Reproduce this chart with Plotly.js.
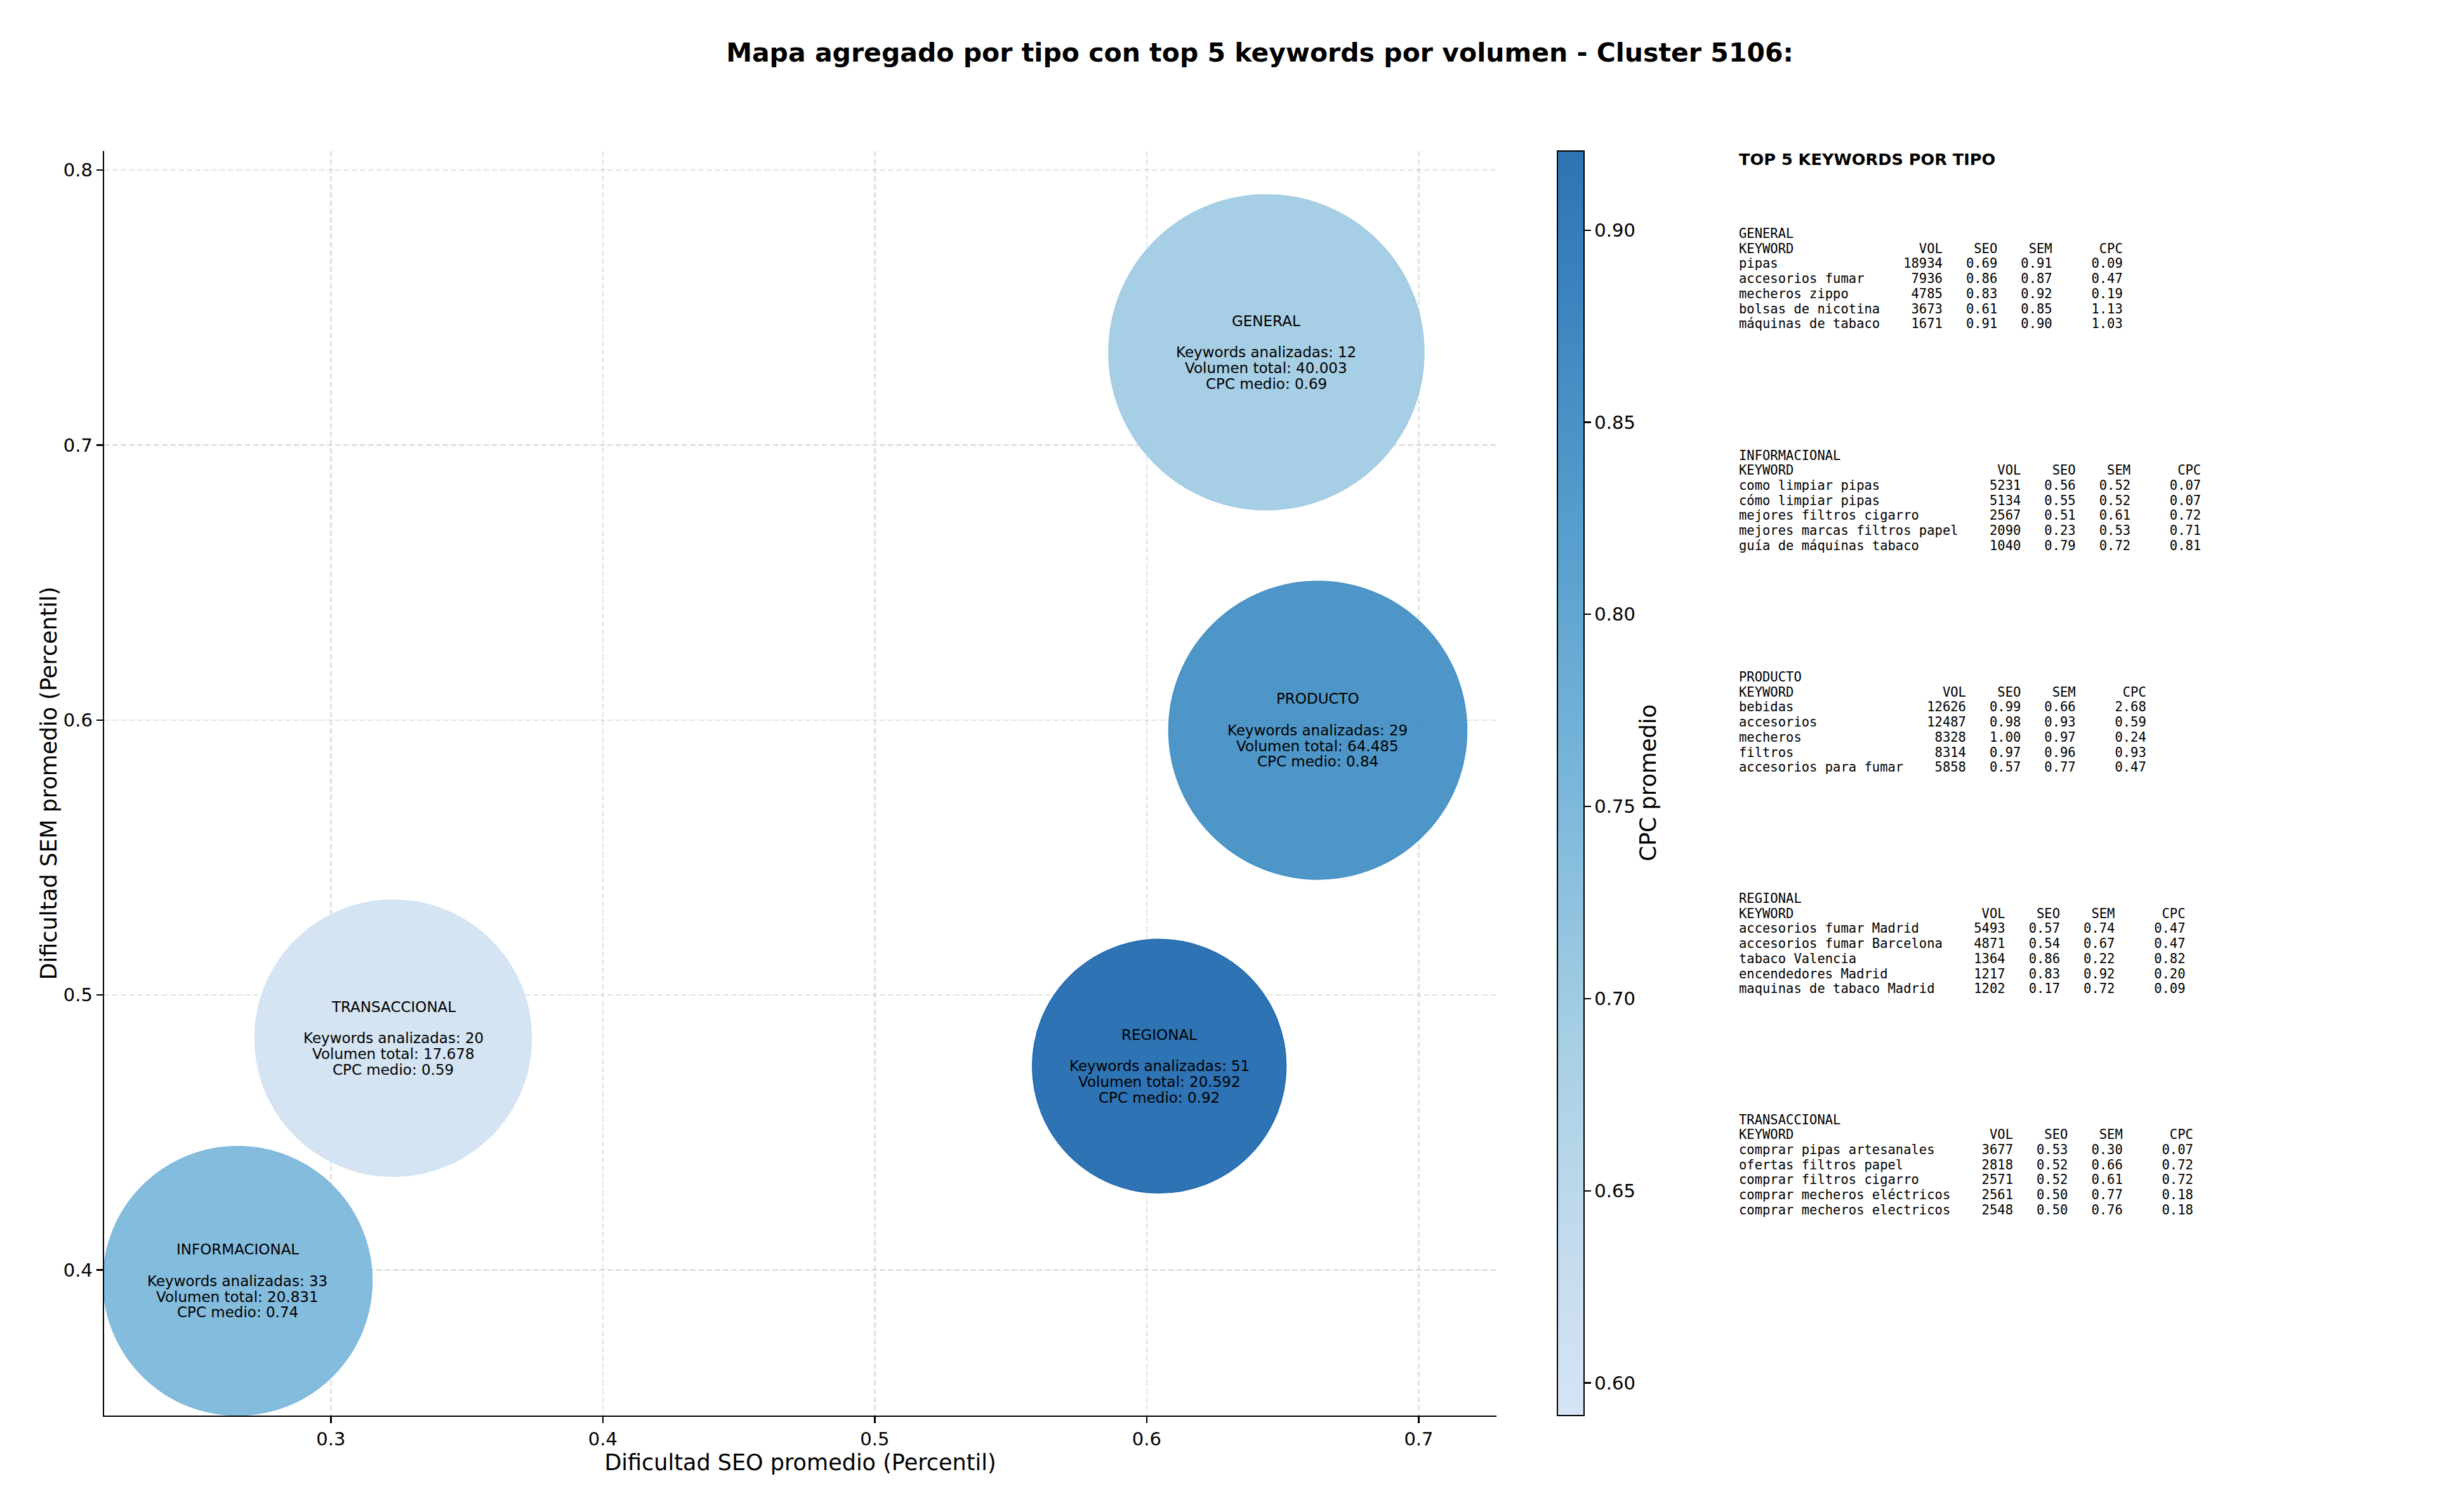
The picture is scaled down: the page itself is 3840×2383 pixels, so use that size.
<!DOCTYPE html>
<html>
<head>
<meta charset="utf-8">
<script src="https://cdn.plot.ly/plotly-3.0.1.min.js"></script>
<style>html,body{margin:0;padding:0;background:#fff;}</style>
</head>
<body>
<div id="chart" style="width:3840px;height:2383px;"></div>
<script>
// ---------- DATA ----------
const tipos = ['GENERAL', 'INFORMACIONAL', 'PRODUCTO', 'REGIONAL', 'TRANSACCIONAL'];
const seoPromedio = [0.644, 0.2657, 0.6629, 0.6046, 0.3229];
const semPromedio = [0.7338, 0.396, 0.5963, 0.4741, 0.4843];
const keywordsAnalizadas = [12, 33, 29, 51, 20];
const volumenTotal = [40003, 20831, 64485, 20592, 17678];
const cpcMedio = [0.69, 0.74, 0.84, 0.92, 0.59];

const generalKw  = ['pipas', 'accesorios fumar', 'mecheros zippo', 'bolsas de nicotina', 'máquinas de tabaco'];
const generalVol = [18934, 7936, 4785, 3673, 1671];
const generalSeo = [0.69, 0.86, 0.83, 0.61, 0.91];
const generalSem = [0.91, 0.87, 0.92, 0.85, 0.90];
const generalCpc = [0.09, 0.47, 0.19, 1.13, 1.03];

const informacionalKw  = ['como limpiar pipas', 'cómo limpiar pipas', 'mejores filtros cigarro', 'mejores marcas filtros papel', 'guía de máquinas tabaco'];
const informacionalVol = [5231, 5134, 2567, 2090, 1040];
const informacionalSeo = [0.56, 0.55, 0.51, 0.23, 0.79];
const informacionalSem = [0.52, 0.52, 0.61, 0.53, 0.72];
const informacionalCpc = [0.07, 0.07, 0.72, 0.71, 0.81];

const productoKw  = ['bebidas', 'accesorios', 'mecheros', 'filtros', 'accesorios para fumar'];
const productoVol = [12626, 12487, 8328, 8314, 5858];
const productoSeo = [0.99, 0.98, 1.00, 0.97, 0.57];
const productoSem = [0.66, 0.93, 0.97, 0.96, 0.77];
const productoCpc = [2.68, 0.59, 0.24, 0.93, 0.47];

const regionalKw  = ['accesorios fumar Madrid', 'accesorios fumar Barcelona', 'tabaco Valencia', 'encendedores Madrid', 'maquinas de tabaco Madrid'];
const regionalVol = [5493, 4871, 1364, 1217, 1202];
const regionalSeo = [0.57, 0.54, 0.86, 0.83, 0.17];
const regionalSem = [0.74, 0.67, 0.22, 0.92, 0.72];
const regionalCpc = [0.47, 0.47, 0.82, 0.20, 0.09];

const transaccionalKw  = ['comprar pipas artesanales', 'ofertas filtros papel', 'comprar filtros cigarro', 'comprar mecheros eléctricos', 'comprar mecheros electricos'];
const transaccionalVol = [3677, 2818, 2571, 2561, 2548];
const transaccionalSeo = [0.53, 0.52, 0.52, 0.50, 0.50];
const transaccionalSem = [0.30, 0.66, 0.61, 0.77, 0.76];
const transaccionalCpc = [0.07, 0.72, 0.72, 0.18, 0.18];

const cbTickVals = [0.60, 0.65, 0.70, 0.75, 0.80, 0.85, 0.90];
const xTickVals = [0.3, 0.4, 0.5, 0.6, 0.7];
const yTickVals = [0.4, 0.5, 0.6, 0.7, 0.8];

// ---------- STYLE / LAYOUT CONSTANTS ----------
const W = 3840, H = 2383;
const PL = 164, PR = 2358, PT = 238, PB = 2231;
const plotW = PR - PL, plotH = PB - PT;
const bubbleDiameterPx = [497, 424, 470, 400, 436];
const cmin = 0.5915, cmax = 0.9206;
const SANS = 'DejaVu Sans, Liberation Sans, sans-serif';
const MONO = 'DejaVu Sans Mono, Liberation Mono, monospace';

// Blues colormap segment (0.2 .. 0.8) with alpha 0.9
const A = 0.9;
const colorscale = [
  [0.0,    `rgba(208,225,242,${A})`],
  [0.0833, `rgba(198,219,239,${A})`],
  [0.2917, `rgba(158,202,225,${A})`],
  [0.5,    `rgba(107,174,214,${A})`],
  [0.7083, `rgba(66,146,198,${A})`],
  [0.9167, `rgba(33,113,181,${A})`],
  [1.0,    `rgba(23,100,171,${A})`]
];

function fmtThousands(n) {
  return String(n).replace(/\B(?=(\d{3})+(?!\d))/g, '.');
}
function pxToPaperX(px) { return (px - PL) / plotW; }
function pxToPaperY(py) { return (PB - py) / plotH; }
function nb(s) { return s.replace(/ /g, '\u00A0'); }

const trace = {
  type: 'scatter',
  mode: 'markers',
  x: seoPromedio,
  y: semPromedio,
  text: tipos,
  hoverinfo: 'text',
  cliponaxis: true,
  marker: {
    size: bubbleDiameterPx,
    sizemode: 'diameter',
    opacity: 1,
    color: cpcMedio,
    colorscale: colorscale,
    cmin: cmin,
    cmax: cmax,
    showscale: true,
    line: { width: 1.5, color: cpcMedio, colorscale: colorscale, cmin: cmin, cmax: cmax },
    colorbar: {
      thickness: 42,
      thicknessmode: 'pixels',
      len: 1,
      lenmode: 'fraction',
      x: pxToPaperX(2454),
      xanchor: 'left',
      xref: 'paper',
      xpad: 0,
      y: 0.5,
      yanchor: 'middle',
      yref: 'paper',
      ypad: 0,
      outlinewidth: 2,
      outlinecolor: '#000',
      ticks: 'outside',
      ticklen: 10,
      tickwidth: 2.3,
      tickcolor: '#000',
      tickmode: 'array',
      tickvals: cbTickVals,
      ticktext: cbTickVals.map(v => v.toFixed(2)),
      tickfont: { family: SANS, size: 29, color: '#000' }
    }
  }
};

const annotations = [];

// Bubble labels
const LH = 24.8;
tipos.forEach((t, i) => {
  const lines = [
    [t, 2],
    ['Keywords analizadas: ' + keywordsAnalizadas[i], 0],
    ['Volumen total: ' + fmtThousands(volumenTotal[i]), -1],
    ['CPC medio: ' + cpcMedio[i].toFixed(2), -2]
  ];
  lines.forEach(([txt, k]) => {
    annotations.push({
      x: seoPromedio[i], y: semPromedio[i], xref: 'x', yref: 'y',
      text: txt, showarrow: false, xanchor: 'center', yanchor: 'middle',
      yshift: k * LH,
      font: { family: SANS, size: 23, color: '#000' }
    });
  });
});

// Colorbar label
annotations.push({
  x: pxToPaperX(2596), y: 0.5, xref: 'paper', yref: 'paper',
  text: 'CPC promedio', textangle: -90, showarrow: false,
  xanchor: 'center', yanchor: 'middle',
  font: { family: SANS, size: 35, color: '#000' }
});

// Side panel
const panelX = pxToPaperX(2738);
annotations.push({
  x: panelX, y: pxToPaperY(251), xref: 'paper', yref: 'paper',
  text: 'TOP 5 KEYWORDS POR TIPO', showarrow: false,
  xanchor: 'left', yanchor: 'middle',
  font: { family: SANS, size: 25.6, color: '#000', weight: 700 }
});

const blocks = [
  ['GENERAL', generalKw, generalVol, generalSeo, generalSem, generalCpc],
  ['INFORMACIONAL', informacionalKw, informacionalVol, informacionalSeo, informacionalSem, informacionalCpc],
  ['PRODUCTO', productoKw, productoVol, productoSeo, productoSem, productoCpc],
  ['REGIONAL', regionalKw, regionalVol, regionalSeo, regionalSem, regionalCpc],
  ['TRANSACCIONAL', transaccionalKw, transaccionalVol, transaccionalSeo, transaccionalSem, transaccionalCpc]
];
const blockTopPx = [368, 717.5, 1067, 1416, 1764.5];
const rowPx = 23.7;
blocks.forEach(([name, kw, vol, seo, sem, cpc], b) => {
  const w = Math.max(...kw.map(s => s.length)) + 2;
  const lines = [name,
    'KEYWORD'.padEnd(w) + 'VOL'.padStart(6) + 'SEO'.padStart(7) + 'SEM'.padStart(7) + 'CPC'.padStart(9)];
  kw.forEach((k, i) => {
    lines.push(k.padEnd(w) + String(vol[i]).padStart(6) + seo[i].toFixed(2).padStart(7) +
      sem[i].toFixed(2).padStart(7) + cpc[i].toFixed(2).padStart(9));
  });
  lines.forEach((ln, j) => {
    annotations.push({
      x: panelX, y: pxToPaperY(blockTopPx[b] + j * rowPx), xref: 'paper', yref: 'paper',
      text: nb(ln), showarrow: false, xanchor: 'left', yanchor: 'middle',
      font: { family: MONO, size: 20.5, color: '#000' }
    });
  });
});

const axisCommon = {
  showline: true, linecolor: '#000', linewidth: 2.3, mirror: false,
  ticks: 'outside', ticklen: 10, tickwidth: 2.3, tickcolor: '#000',
  showgrid: true, gridcolor: 'rgba(176,176,176,0.35)', gridwidth: 2.3, griddash: '9px,4px',
  zeroline: false, automargin: false,
  tickfont: { family: SANS, size: 29, color: '#000' },
  tickmode: 'array'
};

const layout = {
  width: W, height: H,
  paper_bgcolor: '#fff', plot_bgcolor: '#fff',
  margin: { l: PL, r: W - PR, t: PT, b: H - PB, pad: 0 },
  showlegend: false,
  font: { family: SANS, color: '#000' },
  title: {
    text: 'Mapa agregado por tipo con top 5 keywords por volumen - Cluster 5106:',
    x: 1985 / W, xref: 'container', xanchor: 'center',
    y: 1 - 83 / H, yref: 'container', yanchor: 'middle',
    font: { family: SANS, size: 41, color: '#000', weight: 700 }
  },
  xaxis: Object.assign({}, axisCommon, {
    range: [0.2166, 0.7286],
    tickvals: xTickVals, ticktext: xTickVals.map(v => v.toFixed(1)),
    title: { text: 'Dificultad SEO promedio (Percentil)', standoff: 9, font: { family: SANS, size: 35, color: '#000' } }
  }),
  yaxis: Object.assign({}, axisCommon, {
    range: [0.347, 0.807],
    tickvals: yTickVals, ticktext: yTickVals.map(v => v.toFixed(1)),
    title: { text: 'Dificultad SEM promedio (Percentil)', standoff: 0, font: { family: SANS, size: 35, color: '#000' } }
  }),
  annotations: annotations
};

Plotly.newPlot('chart', [trace], layout, { staticPlot: true, displayModeBar: false });
</script>
</body>
</html>
